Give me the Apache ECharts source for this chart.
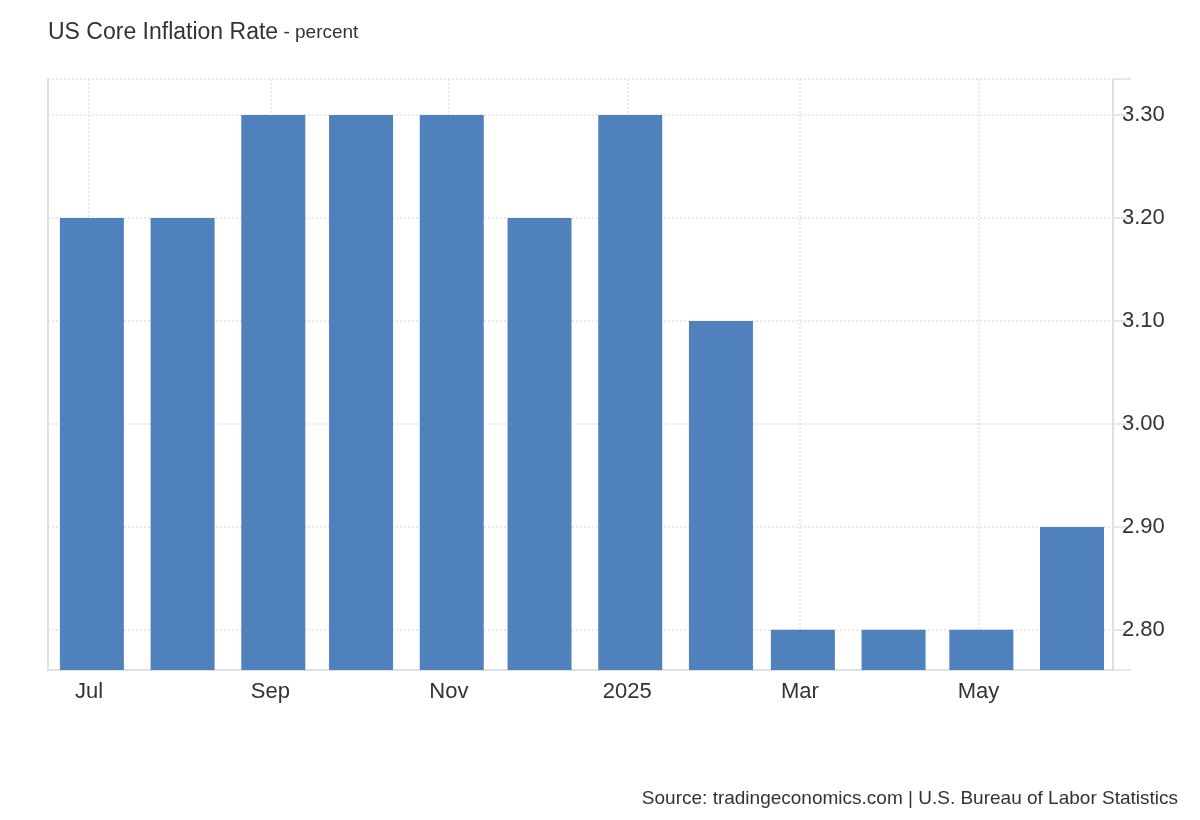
<!DOCTYPE html>
<html>
<head>
<meta charset="utf-8">
<script src="https://cdn.jsdelivr.net/npm/echarts@6/dist/echarts.min.js"></script>
<style>
html,body{margin:0;padding:0;background:#fff;}
#chart{width:1200px;height:820px;}
</style>
</head>
<body>
<div id="chart"></div>
<script>
const months = ['2024-07-01','2024-08-01','2024-09-01','2024-10-01','2024-11-01','2024-12-01',
                '2025-01-01','2025-02-01','2025-03-01','2025-04-01','2025-05-01','2025-06-01'];
const values = [3.2, 3.2, 3.3, 3.3, 3.3, 3.2, 3.3, 3.1, 2.8, 2.8, 2.8, 2.9];
const xTickDates = ['2024-06-30','2024-08-31','2024-10-31','2024-12-31','2025-02-28','2025-04-30'];
const xTickLabels = ['Jul', 'Sep', 'Nov', '2025', 'Mar', 'May'];
const yTickLabels = [2.8, 2.9, 3.0, 3.1, 3.2, 3.3];
const yMin = 2.761, yMax = 3.335;
const xMin = '2024-06-16', xMax = '2025-06-15';

const ts = s => Date.parse(s + 'T00:00:00Z');
const FONT = '"Liberation Sans", Arial, Helvetica, sans-serif';
const xTickTs = xTickDates.map(ts);

const chart = echarts.init(document.getElementById('chart'), null, {renderer: 'canvas'});
chart.setOption({
  animation: false,
  backgroundColor: '#ffffff',
  textStyle: {fontFamily: FONT},
  title: [{
    text: '{a|US Core Inflation Rate}{b| - percent}',
    left: 43, top: 16,
    textStyle: {
      fontWeight: 'normal',
      rich: {
        a: {fontSize: 23, fontWeight: 'normal', color: '#333333', fontFamily: FONT},
        b: {fontSize: 19, fontWeight: 'normal', color: '#333333', fontFamily: FONT}
      }
    }
  }, {
    text: 'Source: tradingeconomics.com | U.S. Bureau of Labor Statistics',
    right: 17, top: 784,
    textStyle: {fontSize: 19, fontWeight: 'normal', color: '#333333', fontFamily: FONT}
  }],
  grid: {left: 48, right: 87, top: 79, bottom: 150, containLabel: false},
  xAxis: {
    type: 'value',
    min: ts(xMin), max: ts(xMax),
    axisLine: {show: true, lineStyle: {color: '#e0e0e0', width: 2}},
    axisTick: {show: false, customValues: xTickTs},
    axisLabel: {
      customValues: xTickTs,
      fontSize: 22, color: '#333333', fontFamily: FONT, margin: 11,
      formatter: v => { const i = xTickTs.indexOf(v); return i >= 0 ? xTickLabels[i] : ''; }
    },
    splitLine: {show: true, lineStyle: {color: '#e3e3e3', type: [2, 2], width: 1.5}}
  },
  yAxis: [{
    type: 'value', position: 'right',
    min: yMin, max: yMax,
    axisLine: {show: true, lineStyle: {color: '#e0e0e0', width: 2}},
    axisTick: {show: true, length: 18, lineStyle: {color: '#e0e0e0', width: 1.5}, customValues: [yMin].concat(yTickLabels, [yMax])},
    axisLabel: {
      customValues: yTickLabels,
      fontSize: 22, color: '#333333', fontFamily: FONT, margin: 9,
      formatter: v => v.toFixed(2)
    },
    splitLine: {show: true, lineStyle: {color: '#e3e3e3', type: [2, 2], width: 1.5}}
  }, {
    type: 'value', position: 'left',
    min: yMin, max: yMax,
    axisLine: {show: true, lineStyle: {color: '#e0e0e0', width: 2}},
    axisTick: {show: false}, axisLabel: {show: false}, splitLine: {show: false}
  }],
  series: [{
    type: 'bar',
    yAxisIndex: 0,
    barWidth: 64,
    itemStyle: {color: '#4f81bd'},
    data: months.map((m, i) => [ts(m), values[i]])
  }]
});
</script>
</body>
</html>
